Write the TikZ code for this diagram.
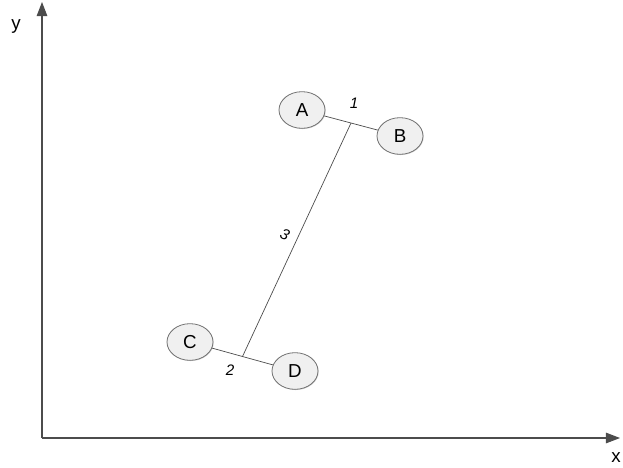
\documentclass[tikz,border=0pt]{standalone}
\usepackage{fontspec}
\setmainfont{Liberation Sans}
\usetikzlibrary{positioning, arrows.meta, shapes.geometric, shadows, calc}

\begin{document}
\begin{tikzpicture}[
    x=0.03cm, y=-0.03cm,
    point/.style={ellipse, draw=black!55, line width=0.7pt, fill=gray!12, minimum width=1.38cm, minimum height=1.1cm,
      inner sep=0pt, font=\fontsize{16}{19}\selectfont, drop shadow={shadow xshift=0.6pt, shadow yshift=-0.6pt, opacity=0.3}},
    link/.style={draw=black!70, line width=0.6pt},
    axis/.style={-{Triangle[length=12pt, width=9pt]}, draw=black!70, fill=black!70, line width=0.9pt},
    num/.style={font=\fontsize{13}{15}\selectfont\itshape}
  ]
    \useasboundingbox (0,0) rectangle (623,467);

    % axes
    \coordinate (o) at (42,438);
    \coordinate (xend) at (620,438);
    \coordinate (yend) at (42,2);
    \draw[axis] (o) -- (xend);
    \draw[axis] (o) -- (yend);
    \node[font=\fontsize{16}{19}\selectfont] (ylab) at (16,26) {y};
    \node[font=\fontsize{16}{19}\selectfont] (xlab) at (616,458) {x};

    % points
    \node[point] (A) at (302,110) {A};
    \node[point] (B) at (400,136) {B};
    \node[point] (C) at (190,342) {C};
    \node[point] (D) at (295,371) {D};

    % links
    \draw[link] (A) -- (B);
    \draw[link] (C) -- (D);
    \coordinate (mab) at ($(A)!0.5!(B)$);
    \coordinate (mcd) at ($(C)!0.5!(D)$);
    \draw[link] (mab) -- (mcd);

    \node[num] (l1) at (354,103) {1};
    \node[num] (l2) at (230,370) {2};
    \node[num, rotate=-25] (l3) at (285,235) {3};
\end{tikzpicture}
\end{document}
